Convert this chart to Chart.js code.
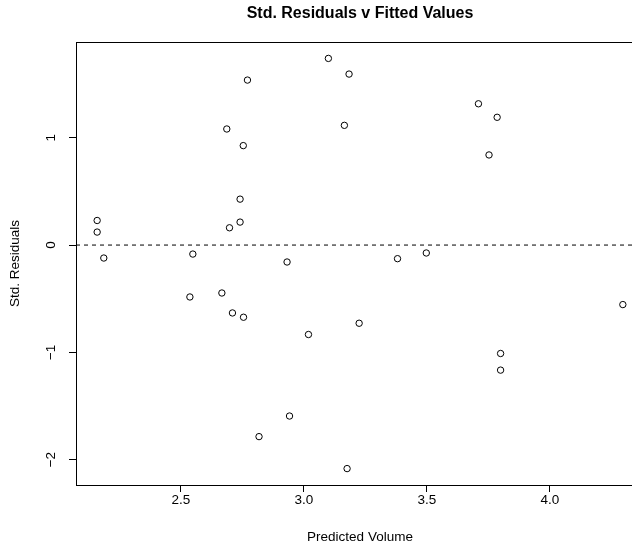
<!DOCTYPE html>
<html>
<head>
<meta charset="utf-8">
<script src="https://cdn.jsdelivr.net/npm/chart.js@4/dist/chart.umd.min.js"></script>
<style>
  html, body { margin: 0; padding: 0; background: #fff; overflow: hidden; }
  #wrap { position: relative; width: 660px; height: 546px; }
</style>
</head>
<body>
<div id="wrap"><canvas id="residChart" width="660" height="546"></canvas></div>
<script>
// fitted values (x) and standardised residuals (y)
var fittedValues = [
  2.771, 2.687, 2.754, 2.741, 2.741, 2.698, 2.160, 2.160, 2.187, 2.549, 2.932,
  3.100, 3.184, 3.710, 3.786, 3.165, 3.753, 3.381, 3.498,
  2.537, 2.667, 2.710, 2.755, 3.019, 2.942, 2.818,
  3.225, 4.297, 3.800, 3.800, 3.176
];
var stdResiduals = [
  1.538, 1.082, 0.927, 0.428, 0.214, 0.161, 0.229, 0.121, -0.121, -0.084, -0.158,
  1.740, 1.594, 1.317, 1.191, 1.116, 0.840, -0.127, -0.074,
  -0.484, -0.447, -0.633, -0.673, -0.834, -1.594, -1.786,
  -0.729, -0.555, -1.011, -1.166, -2.084
];
var xTicks = [2.5, 3.0, 3.5, 4.0];
var yTicks = [-2, -1, 0, 1];
var xRange = [2.074, 4.383];
var yRange = [-2.237, 1.893];

var FONT = "'Liberation Sans', Arial, Helvetica, sans-serif";

var points = fittedValues.map(function (x, i) {
  return { x: x, y: stdResiduals[i] };
});

// box round the plot region (top, left, bottom; right side falls off the page)
var boxPlugin = {
  id: "rbox",
  afterDraw: function (chart) {
    var ctx = chart.ctx;
    var a = chart.chartArea;
    ctx.save();
    ctx.strokeStyle = "#000";
    ctx.lineWidth = 1;
    ctx.strokeRect(a.left + 0.5, a.top + 0.5, a.right - a.left, a.bottom - a.top);

    // rotated y tick labels, R style
    var ys = chart.scales.y;
    ctx.fillStyle = "#000";
    ctx.font = "13.5px " + FONT;
    ctx.textAlign = "center";
    ctx.textBaseline = "middle";
    yTicks.forEach(function (v) {
      var py = ys.getPixelForValue(v);
      ctx.save();
      ctx.translate(51, py);
      ctx.rotate(-Math.PI / 2);
      ctx.fillText(String(v).replace("-", "\u2212"), 0, 0);
      ctx.restore();
    });
    ctx.restore();
  }
};

new Chart(document.getElementById("residChart"), {
  type: "scatter",
  data: {
    datasets: [
      {
        label: "residuals",
        data: points,
        pointStyle: "circle",
        pointRadius: 3.2,
        pointBorderWidth: 1,
        pointBorderColor: "#000",
        pointBackgroundColor: "rgba(0,0,0,0)",
        showLine: false
      },
      {
        label: "zero",
        type: "line",
        data: [{ x: xRange[0], y: 0 }, { x: xRange[1], y: 0 }],
        borderColor: "#000",
        borderWidth: 1,
        borderDash: [4, 4],
        pointRadius: 0,
        fill: false
      }
    ]
  },
  options: {
    responsive: false,
    animation: false,
    events: [],
    layout: { padding: { top: 0, left: 0, right: 16, bottom: 0 } },
    plugins: {
      legend: { display: false },
      tooltip: { enabled: false },
      title: {
        display: true,
        fullSize: false,
        text: "Std. Residuals v Fitted Values",
        color: "#000",
        font: { family: FONT, size: 16, weight: "bold" },
        padding: { top: 3.5, bottom: 19.3 }
      }
    },
    scales: {
      x: {
        type: "linear",
        min: xRange[0],
        max: xRange[1],
        afterFit: function (s) { s.height = 61; },
        afterBuildTicks: function (s) {
          s.ticks = xTicks.map(function (v) { return { value: v }; });
        },
        ticks: {
          color: "#000",
          padding: 0,
          maxRotation: 0,
          font: { family: FONT, size: 13.5 },
          callback: function (v) { return v.toFixed(1); }
        },
        grid: { drawOnChartArea: false, tickLength: 7, tickColor: "#000", tickWidth: 1 },
        border: { display: true, color: "#000", width: 1 },
        title: {
          display: true,
          text: "Predicted Volume",
          color: "#000",
          font: { family: FONT, size: 13.5 },
          padding: { top: 0, bottom: 1 }
        }
      },
      y: {
        type: "linear",
        min: yRange[0],
        max: yRange[1],
        afterFit: function (s) { s.width = 76; },
        afterBuildTicks: function (s) {
          s.ticks = yTicks.map(function (v) { return { value: v }; });
        },
        ticks: { display: false },
        grid: { drawOnChartArea: false, tickLength: 7, tickColor: "#000", tickWidth: 1 },
        border: { display: true, color: "#000", width: 1 },
        title: {
          display: true,
          text: "Std. Residuals",
          color: "#000",
          font: { family: FONT, size: 13.5 },
          padding: { top: 7, bottom: 0 }
        }
      }
    }
  },
  plugins: [boxPlugin]
});
</script>
</body>
</html>
